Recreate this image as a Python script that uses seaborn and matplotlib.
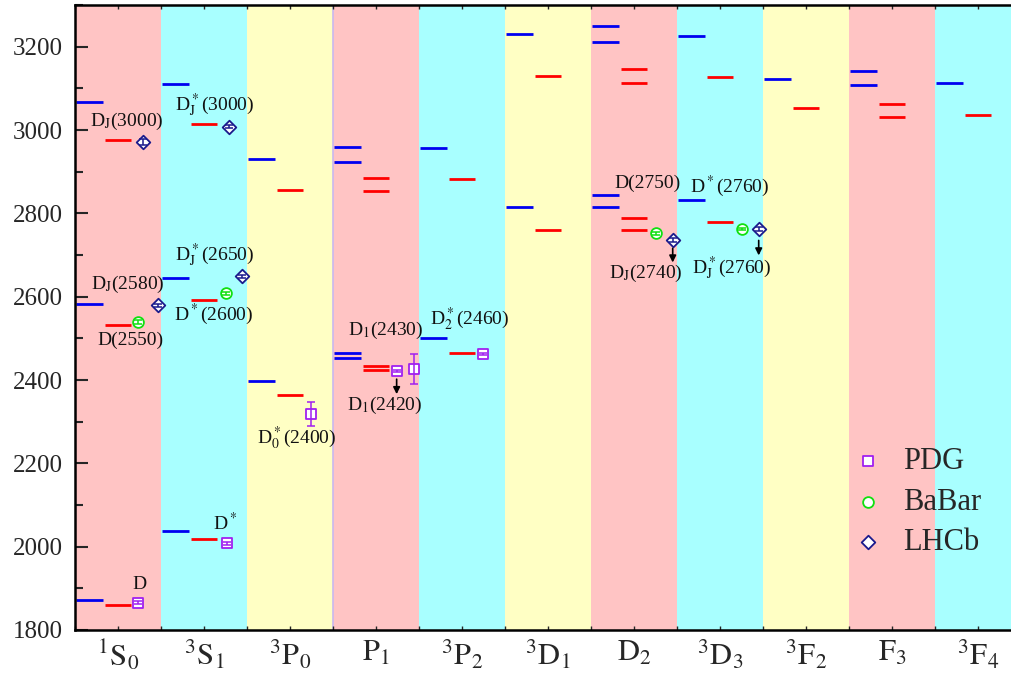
import numpy as np
import pandas as pd
import matplotlib
matplotlib.use("Agg")
import matplotlib.pyplot as plt
import seaborn as sns

# ---------------- data ----------------
categories = [r"$^{1}\mathrm{S}_{0}$", r"$^{3}\mathrm{S}_{1}$", r"$^{3}\mathrm{P}_{0}$",
              r"$\mathrm{P}_{1}$", r"$^{3}\mathrm{P}_{2}$", r"$^{3}\mathrm{D}_{1}$",
              r"$\mathrm{D}_{2}$", r"$^{3}\mathrm{D}_{3}$", r"$^{3}\mathrm{F}_{2}$",
              r"$\mathrm{F}_{3}$", r"$^{3}\mathrm{F}_{4}$"]

# model 1 (blue levels)
blue_cat = [0, 0, 0, 1, 1, 1, 2, 2, 3, 3, 3, 3, 4, 4, 5, 5, 6, 6, 6, 6, 7, 7, 8, 9, 9, 10]
blue_mass = [1873, 2583, 3068, 2037, 2644, 3110, 2397, 2931, 2454, 2466, 2923, 2960,
             2501, 2957, 2815, 3231, 2815, 2845, 3212, 3249, 2832, 3226, 3122, 3108, 3142, 3113]

# model 2 (red levels)
red_cat = [0, 0, 0, 1, 1, 1, 2, 2, 3, 3, 3, 3, 4, 4, 5, 5, 6, 6, 6, 6, 7, 7, 8, 9, 9, 10]
red_mass = [1860, 2533, 2975, 2019, 2593, 3014, 2363, 2855, 2423, 2434, 2853, 2884,
            2466, 2883, 2761, 3130, 2761, 2788, 3114, 3147, 2779, 3128, 3052, 3031, 3063, 3037]

# experimental states
exp_source = ["PDG", "PDG", "PDG", "PDG", "PDG", "PDG",
              "BaBar", "BaBar", "BaBar", "BaBar",
              "LHCb", "LHCb", "LHCb", "LHCb", "LHCb", "LHCb"]
exp_cat = [0, 1, 2, 3, 3, 4, 0, 1, 6, 7, 0, 0, 1, 1, 6, 7]
exp_slot = [0.23, 0.27, 0.24, 0.24, 0.44, 0.24, 0.23, 0.25, 0.25, 0.25, 0.29, 0.465, 0.29, 0.44, 0.45, 0.45]
exp_mass = [1866, 2008, 2318, 2422, 2427, 2463, 2539, 2608, 2752, 2763, 2971, 2579, 3008, 2649, 2736, 2762]
exp_err = [3, 3, 29, 3, 36, 3, 4, 4, 3, 3, 8, 4, 4, 4, 4, 5]

# state labels
label_text = [r"D$_\mathrm{J}$(3000)", r"D$_\mathrm{J}$(2580)", "D(2550)", "D",
              r"D$^*$", r"D$_\mathrm{J}^*$(3000)", r"D$_\mathrm{J}^*$(2650)", r"D$^*$(2600)",
              r"D$_0^*$(2400)", r"D$_1$(2430)", r"D$_1$(2420)", r"D$_2^*$(2460)",
              "D(2750)", r"D$_\mathrm{J}$(2740)", r"D$^*$(2760)", r"D$_\mathrm{J}^*$(2760)"]
label_x = [0.105, 0.116, 0.14, 0.25, 1.244, 1.128, 1.128, 1.116,
           2.08, 3.116, 3.105, 4.09, 6.16, 6.14, 7.116, 7.14]
label_y = [3010, 2619, 2483, 1898, 2040, 3046, 2687, 2543,
           2248, 2507, 2327, 2533, 2861, 2645, 2851, 2655]

# arrows (x, start, end)
arrow_x = [3.24, 6.45, 7.45]
arrow_y0 = [2402, 2716, 2735]
arrow_y1 = [2366, 2682, 2699]

# ---------------- style ----------------
sns.set_style("ticks")
plt.rcParams["font.family"] = ["Liberation Serif", "DejaVu Serif"]
plt.rcParams["mathtext.fontset"] = "stix"

band_colors = ["#FFC4C4", "#A8FFFF", "#FFFFC4"]
src_color = {"PDG": "#A020F0", "BaBar": "#10E010", "LHCb": "#1A1A8C"}
src_marker = {"PDG": "s", "BaBar": "o", "LHCb": "D"}
src_size = {"PDG": 52, "BaBar": 60, "LHCb": 48}

fig = plt.figure(figsize=(10.11, 6.8), dpi=100)
ax = fig.add_axes([75 / 1011, 50 / 680, (1011 - 75) / 1011, 625 / 680])

n = len(categories)
for i in range(n):
    ax.axvspan(i - 0.5, i + 0.5, color=band_colors[i % 3], lw=0, zorder=0)
ax.axvline(2.5, color="#C8B8F0", lw=1.2, zorder=0.5)

blue = pd.DataFrame({"cat": blue_cat, "mass": blue_mass})
red = pd.DataFrame({"cat": red_cat, "mass": red_mass})
ax.hlines(blue["mass"], blue["cat"] - 0.49, blue["cat"] - 0.17, colors="#0000F0", lw=2, zorder=2)
ax.hlines(red["mass"], red["cat"] - 0.15, red["cat"] + 0.15, colors="#FF0000", lw=2, zorder=2)

exp = pd.DataFrame({"source": exp_source, "x": np.array(exp_cat) + np.array(exp_slot),
                    "mass": exp_mass, "err": exp_err})
for src in ["PDG", "BaBar", "LHCb"]:
    sub = exp[exp["source"] == src]
    sns.scatterplot(data=sub, x="x", y="mass", ax=ax, marker=src_marker[src],
                    s=src_size[src], color=src_color[src], facecolor="white",
                    edgecolor=src_color[src], linewidth=1.3, label=src, zorder=4)
    ax.errorbar(sub["x"], sub["mass"], yerr=sub["err"], fmt="none",
                ecolor=src_color[src], elinewidth=1.1, capsize=3, capthick=1.1, zorder=5)

for t, x, y in zip(label_text, label_x, label_y):
    ax.text(x, y, t, ha="center", va="baseline", fontsize=14, color="#111111", zorder=6)

for x, y0, y1 in zip(arrow_x, arrow_y0, arrow_y1):
    ax.annotate("", xy=(x, y1), xytext=(x, y0),
                arrowprops=dict(arrowstyle="-|>", color="black", lw=1.2, mutation_scale=10,
                                shrinkA=0, shrinkB=0), zorder=6)

ax.set_xticks(range(n))
ax.set_xticklabels(categories, fontsize=22)
ax.set_xticks(np.arange(-0.5, n, 1.0), minor=True)
ax.set_yticks(np.arange(1800, 3201, 200))
ax.set_yticks(np.arange(1800, 3301, 100), minor=True)
ax.set_xlim(-0.5, (1011 - 75) / 86 - 0.5)
ax.set_ylim(1800, 3300)
ax.tick_params(axis="x", which="both", direction="in", length=3, width=1, top=True,
               bottom=True, pad=6)
ax.tick_params(axis="y", which="major", direction="in", length=9, width=1.5, labelsize=18, pad=9,
               left=True, right=False)
ax.tick_params(axis="y", which="minor", direction="in", length=6, width=1.5, left=True, right=False)
ax.set_xlabel("")
ax.set_ylabel("")
for s in ["left", "bottom", "top"]:
    ax.spines[s].set_linewidth(1.8)
    ax.spines[s].set_color("black")
ax.spines["right"].set_visible(False)

ax.legend(loc="upper left", bbox_to_anchor=(831 / 1011, 1 - 426 / 680),
          bbox_transform=fig.transFigure, frameon=False, fontsize=22,
          handlelength=1.0, handletextpad=0.67, labelspacing=0.37, markerscale=1.0,
          borderpad=0.2)

fig.savefig("out.png", dpi=100)
